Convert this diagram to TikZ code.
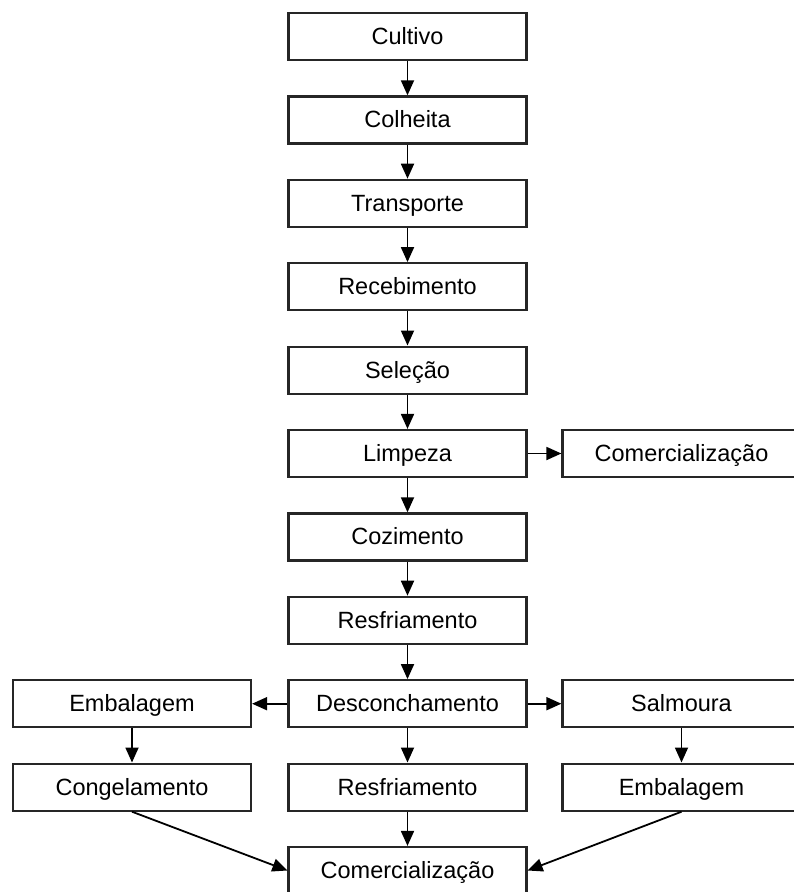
\documentclass[tikz,border=0pt]{standalone}
\usepackage{fontspec}
\setmainfont{Liberation Sans}
\usetikzlibrary{arrows.meta}
\begin{document}
\begin{tikzpicture}[x=1pt,y=-1pt,
  box/.style={draw=black!85, line width=2.2pt, minimum width=238pt, minimum height=47pt, inner sep=0pt, text height=19pt, text depth=3pt, font=\fontsize{23.5}{26}\selectfont},
  arr/.style={draw=black, line width=1.8pt, -{Triangle[length=15pt,width=13pt]}}]
\useasboundingbox (0,0) rectangle (794,892);
\clip (0,0) rectangle (794,892);
\fill[white] (0,0) rectangle (794,892);
\node[box] (cult) at (407.5, 36.5) {Cultivo};
\node[box] (colh) at (407.5, 119.9) {Colheita};
\node[box] (tran) at (407.5, 203.3) {Transporte};
\node[box] (rece) at (407.5, 286.7) {Recebimento};
\node[box] (sele) at (407.5, 370.1) {Seleção};
\node[box] (limp) at (407.5, 453.5) {Limpeza};
\node[box] (com1) at (681.5, 453.5) {Comercialização};
\node[box] (cozi) at (407.5, 536.9) {Cozimento};
\node[box] (resf) at (407.5, 620.3) {Resfriamento};
\node[box] (desc) at (407.5, 703.7) {Desconchamento};
\node[box] (emb1) at (132, 703.7) {Embalagem};
\node[box] (salm) at (681.5, 703.7) {Salmoura};
\node[box] (cong) at (132, 787.1) {Congelamento};
\node[box] (res2) at (407.5, 787.1) {Resfriamento};
\node[box] (emb2) at (681.5, 787.1) {Embalagem};
\node[box] (com2) at (407.5, 870.5) {Comercialização};
\draw[arr] (cult) -- (colh);
\draw[arr] (colh) -- (tran);
\draw[arr] (tran) -- (rece);
\draw[arr] (rece) -- (sele);
\draw[arr] (sele) -- (limp);
\draw[arr] (limp) -- (cozi);
\draw[arr] (limp) -- (com1);
\draw[arr] (cozi) -- (resf);
\draw[arr] (resf) -- (desc);
\draw[arr] (desc) -- (emb1);
\draw[arr] (desc) -- (salm);
\draw[arr] (desc) -- (res2);
\draw[arr] (emb1) -- (cong);
\draw[arr] (salm) -- (emb2);
\draw[arr] (res2) -- (com2);
\draw[arr] (cong.south) -- (com2.west);
\draw[arr] (emb2.south) -- (com2.east);
\end{tikzpicture}
\end{document}
